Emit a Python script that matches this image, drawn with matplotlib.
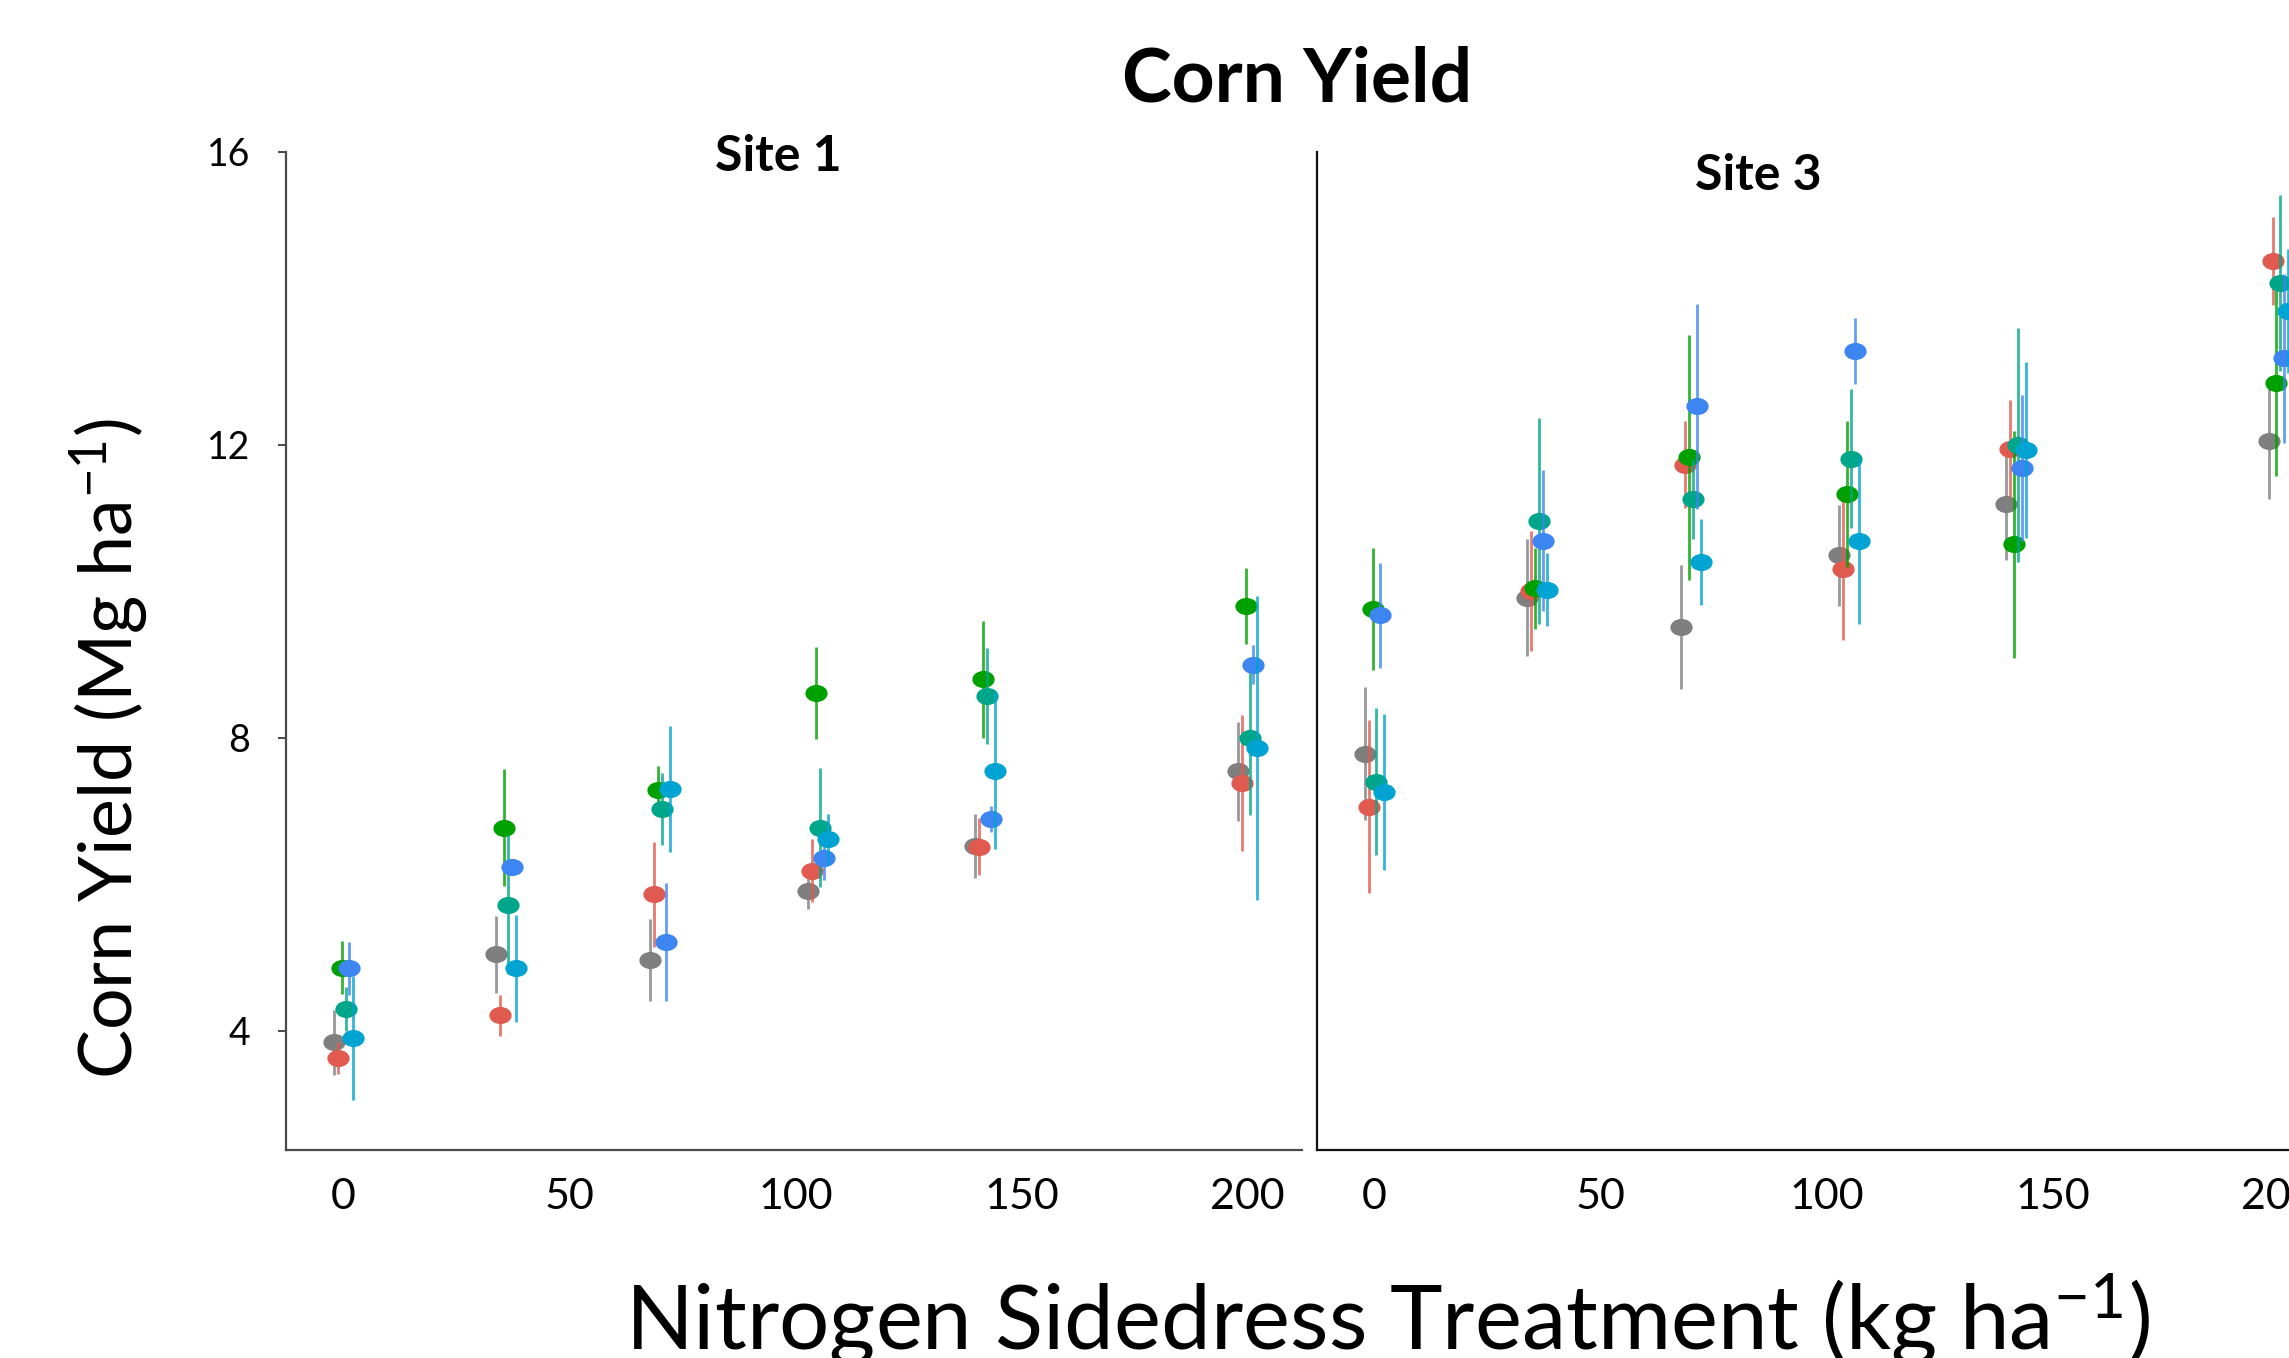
import matplotlib
matplotlib.use("Agg")
import matplotlib.pyplot as plt
from matplotlib.path import Path
from matplotlib.transforms import Affine2D

plt.rcParams['font.family'] = ['Lato', 'DejaVu Sans']
plt.rcParams['mathtext.fontset'] = 'custom'
plt.rcParams['mathtext.rm'] = 'Lato'
plt.rcParams['mathtext.it'] = 'Lato:italic'
plt.rcParams['mathtext.bf'] = 'Lato:bold'

# N sidedress rates (kg/ha)
rates = [0, 36, 70, 105, 142, 200]
xticks = [0, 50, 100, 150, 200]
yticks = [4, 8, 12, 16]

series_colors = ['#7f7f7f', '#e05a4f', '#00a000', '#00a68a', '#3d85f0', '#00a3d1']

# Site 1 means and error (one list per series, same order as colors)
site1_gray = [3.84, 5.04, 4.96, 5.91, 6.52, 7.54]
site1_red = [3.63, 4.21, 5.86, 6.18, 6.51, 7.38]
site1_green = [4.86, 6.77, 7.28, 8.61, 8.80, 9.80]
site1_teal = [4.30, 5.72, 7.03, 6.77, 8.57, 7.99]
site1_blue = [4.85, 6.24, 5.21, 6.36, 6.89, 9.00]
site1_cyan = [3.90, 4.85, 7.30, 6.61, 7.55, 7.86]

site1_gray_err = [0.44, 0.52, 0.56, 0.25, 0.44, 0.68]
site1_red_err = [0.22, 0.28, 0.72, 0.43, 0.39, 0.93]
site1_green_err = [0.36, 0.80, 0.34, 0.63, 0.80, 0.52]
site1_teal_err = [0.30, 0.95, 0.49, 0.81, 0.65, 1.05]
site1_blue_err = [0.36, 0.10, 0.80, 0.30, 0.18, 0.27]
site1_cyan_err = [0.85, 0.73, 0.86, 0.35, 1.07, 2.07]

# Site 3
site3_gray = [7.78, 9.91, 9.51, 10.49, 11.19, 12.05]
site3_red = [7.06, 10.01, 11.73, 10.31, 11.95, 14.51]
site3_green = [9.76, 10.04, 11.83, 11.33, 10.64, 12.85]
site3_teal = [7.40, 10.96, 11.26, 11.81, 12.00, 14.21]
site3_blue = [9.67, 10.69, 12.53, 13.28, 11.68, 13.18]
site3_cyan = [7.26, 10.02, 10.40, 10.68, 11.93, 13.83]

site3_gray_err = [0.91, 0.80, 0.85, 0.69, 0.76, 0.79]
site3_red_err = [1.18, 0.82, 0.59, 0.97, 0.66, 0.60]
site3_green_err = [0.83, 0.55, 1.67, 1.00, 1.55, 1.27]
site3_teal_err = [1.00, 1.41, 0.55, 0.95, 1.60, 1.20]
site3_blue_err = [0.72, 0.96, 1.40, 0.45, 1.00, 1.15]
site3_cyan_err = [1.06, 0.50, 0.59, 1.13, 1.20, 0.85]

site1 = [site1_gray, site1_red, site1_green, site1_teal, site1_blue, site1_cyan]
site1_err = [site1_gray_err, site1_red_err, site1_green_err,
             site1_teal_err, site1_blue_err, site1_cyan_err]
site3 = [site3_gray, site3_red, site3_green, site3_teal, site3_blue, site3_cyan]
site3_err = [site3_gray_err, site3_red_err, site3_green_err,
             site3_teal_err, site3_blue_err, site3_cyan_err]

# oval marker, a bit wider than tall
oval = Path.unit_circle().transformed(Affine2D().scale(1.3, 1.0))
dodge = 0.88

fig = plt.figure(figsize=(22.89, 13.58), dpi=100)
ax1 = fig.add_axes([0.1250, 0.1532, 0.4439, 0.7349])
ax2 = fig.add_axes([0.5754, 0.1532, 0.4439, 0.7349])


def draw_site(ax, means, errs, spine_color):
    for i, (m, e, c) in enumerate(zip(means, errs, series_colors)):
        xs = [r + (i - 2.5) * dodge for r in rates]
        ax.errorbar(xs, m, yerr=e, fmt='none', ecolor=c, elinewidth=2.0,
                    alpha=0.8, capsize=0)
        ax.plot(xs, m, ls='none', marker=oval, ms=16, color=c, mec='none')
    ax.set_xlim(-12.7, 212.1)
    ax.set_ylim(2.37, 16)
    ax.set_xticks(xticks)
    ax.set_xticklabels([str(t) for t in xticks])
    ax.tick_params(axis='x', length=0, pad=20, labelsize=31)
    for s in ['top', 'right']:
        ax.spines[s].set_visible(False)
    for s in ['left', 'bottom']:
        ax.spines[s].set_color(spine_color)
        ax.spines[s].set_linewidth(1.6)


draw_site(ax1, site1, site1_err, '#4a4a4a')
draw_site(ax2, site3, site3_err, '#111111')

ax1.set_yticks(yticks)
ax1.set_yticklabels([str(t) for t in yticks])
ax1.tick_params(axis='y', length=6, width=1.4, color='#4a4a4a', pad=20, labelsize=27)
ax2.set_yticks([])

fig.text(0.5666, 0.941, "Corn Yield", ha='center', va='center',
         fontsize=54, fontweight='bold')
fig.text(0.340, 0.885, "Site 1", ha='center', va='center',
         fontsize=36, fontweight='bold')
fig.text(0.768, 0.871, "Site 3", ha='center', va='center',
         fontsize=36, fontweight='bold')
fig.text(0.048, 0.449, r"Corn Yield (Mg ha$^{\mathregular{-1}}$)", rotation=90,
         ha='center', va='center', fontsize=53)
fig.text(0.606, 0.006, r"Nitrogen Sidedress Treatment (kg ha$^{\mathregular{-1}}$)",
         ha='center', va='baseline', fontsize=64)

fig.savefig("out.png", dpi=100)
